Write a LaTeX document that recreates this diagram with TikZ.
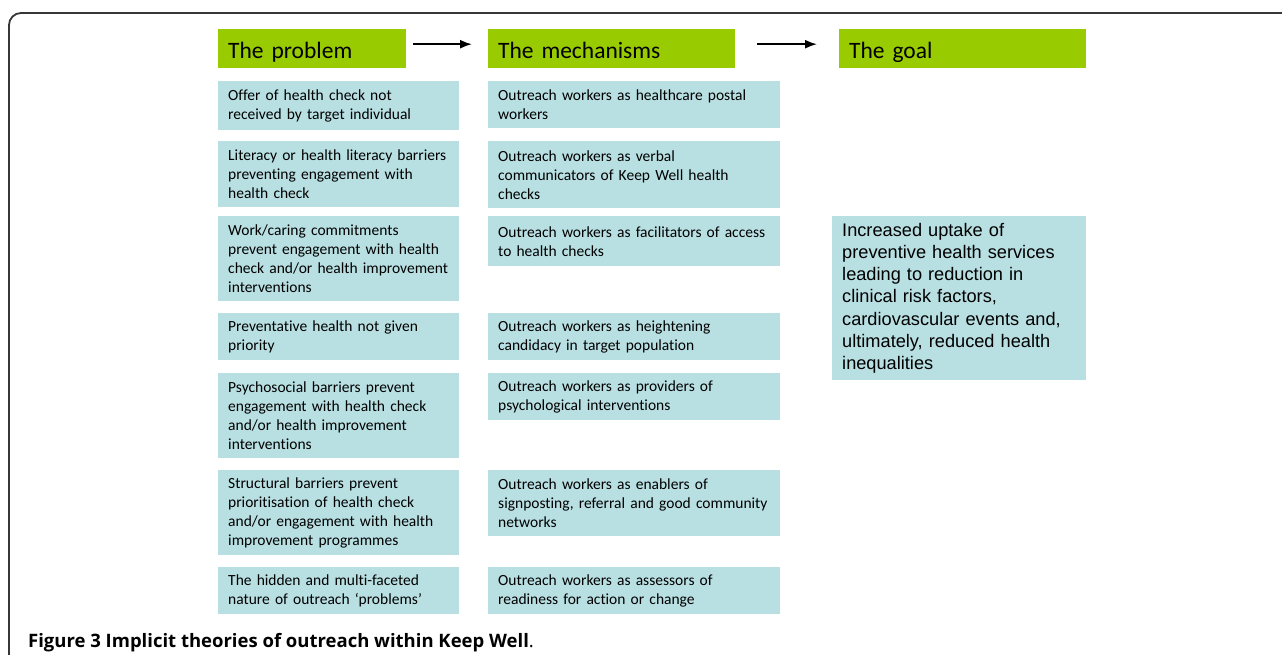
\documentclass[tikz,border=0pt]{standalone}
\usepackage{fontspec}
\setmainfont[Ligatures=NoCommon]{Carlito}
\newfontfamily\goalfont{Liberation Sans}
\newfontfamily\capfont{Open Sans}
\usetikzlibrary{arrows.meta}
\definecolor{headgreen}{RGB}{153,204,0}
\definecolor{boxblue}{RGB}{184,223,226}
\definecolor{framegray}{RGB}{55,55,55}
\tikzset{
  head/.style={fill=headgreen, anchor=north west, minimum height=39pt,
    inner xsep=10pt, align=left, text height=22pt, text depth=3pt,
    font=\fontsize{23.5}{28}\selectfont},
  cell/.style={fill=boxblue, anchor=north west, inner xsep=10pt,
    inner ysep=0pt, align=left, font=\fontsize{15.5}{19}\selectfont},
  flow/.style={-{Latex[length=12pt,width=9pt]}, line width=1.8pt}
}
\begin{document}
\begin{tikzpicture}[x=1pt,y=-1pt]
\useasboundingbox (0,0) rectangle (1282,655);
\draw[framegray, line width=1.8pt, rounded corners=12pt] (9,660) -- (9,13) -- (1290,13); % frame
% headers
\node[head, text width=168pt] (hprob) at (218,29) {The problem};
\node[head, text width=227pt] (hmech) at (488,29) {The mechanisms};
\node[head, text width=227pt] (hgoal) at (839,29) {The goal};
\draw[flow] ([xshift=7pt,yshift=4.5pt]hprob.east) -- ([xshift=-16pt,yshift=4.5pt]hmech.west);
\draw[flow] ([xshift=22pt,yshift=4.5pt]hmech.east) -- ([xshift=-22pt,yshift=4.5pt]hgoal.west);
% the problem column
\foreach \i/\y/\h/\txt in {
  1/81/49/{Offer of health check not\\received by target individual},
  2/141/66/{Literacy or health literacy barriers\\preventing engagement with\\health check},
  3/216/85/{Work/caring commitments\\prevent engagement with health\\check and/or health improvement\\interventions},
  4/313/47/{Preventative health not given\\priority},
  5/373/85/{Psychosocial barriers prevent\\engagement with health check\\and/or health improvement\\interventions},
  6/470/85/{Structural barriers prevent\\prioritisation of health check\\and/or engagement with health\\improvement programmes},
  7/567/47/{The hidden and multi-faceted\\nature of outreach ‘problems’}}
\node[cell, text width=221pt, minimum height=\h pt] (prob\i) at (218,\y) {\txt};
% the mechanisms column
\foreach \i/\y/\h/\txt in {
  1/81/47/{Outreach workers as healthcare postal\\workers},
  2/141/67/{Outreach workers as verbal\\communicators of Keep Well health\\checks},
  3/216/50/{Outreach workers as facilitators of access\\to health checks},
  4/313/47/{Outreach workers as heightening\\candidacy in target population},
  5/373/47/{Outreach workers as providers of\\psychological interventions},
  6/470/66/{Outreach workers as enablers of\\signposting, referral and good community\\networks},
  7/567/47/{Outreach workers as assessors of\\readiness for action or change}}
\node[cell, text width=272pt, minimum height=\h pt] (mech\i) at (488,\y) {\txt};
% the goal
\node[cell, text width=234pt, minimum height=164pt, font=\goalfont\fontsize{18.2}{22.3}\selectfont]
  (goal) at (832,216) {Increased uptake of\\preventive health services\\leading to reduction in\\clinical risk factors,\\cardiovascular events and,\\ultimately, reduced health\\inequalities};
% caption
\node[anchor=base west, inner sep=0pt, font=\capfont\fontsize{18.5}{22}\selectfont] (caption) at (28,647)
  {\textbf{Figure 3 Implicit theories of outreach within Keep Well}.};
\end{tikzpicture}
\end{document}
